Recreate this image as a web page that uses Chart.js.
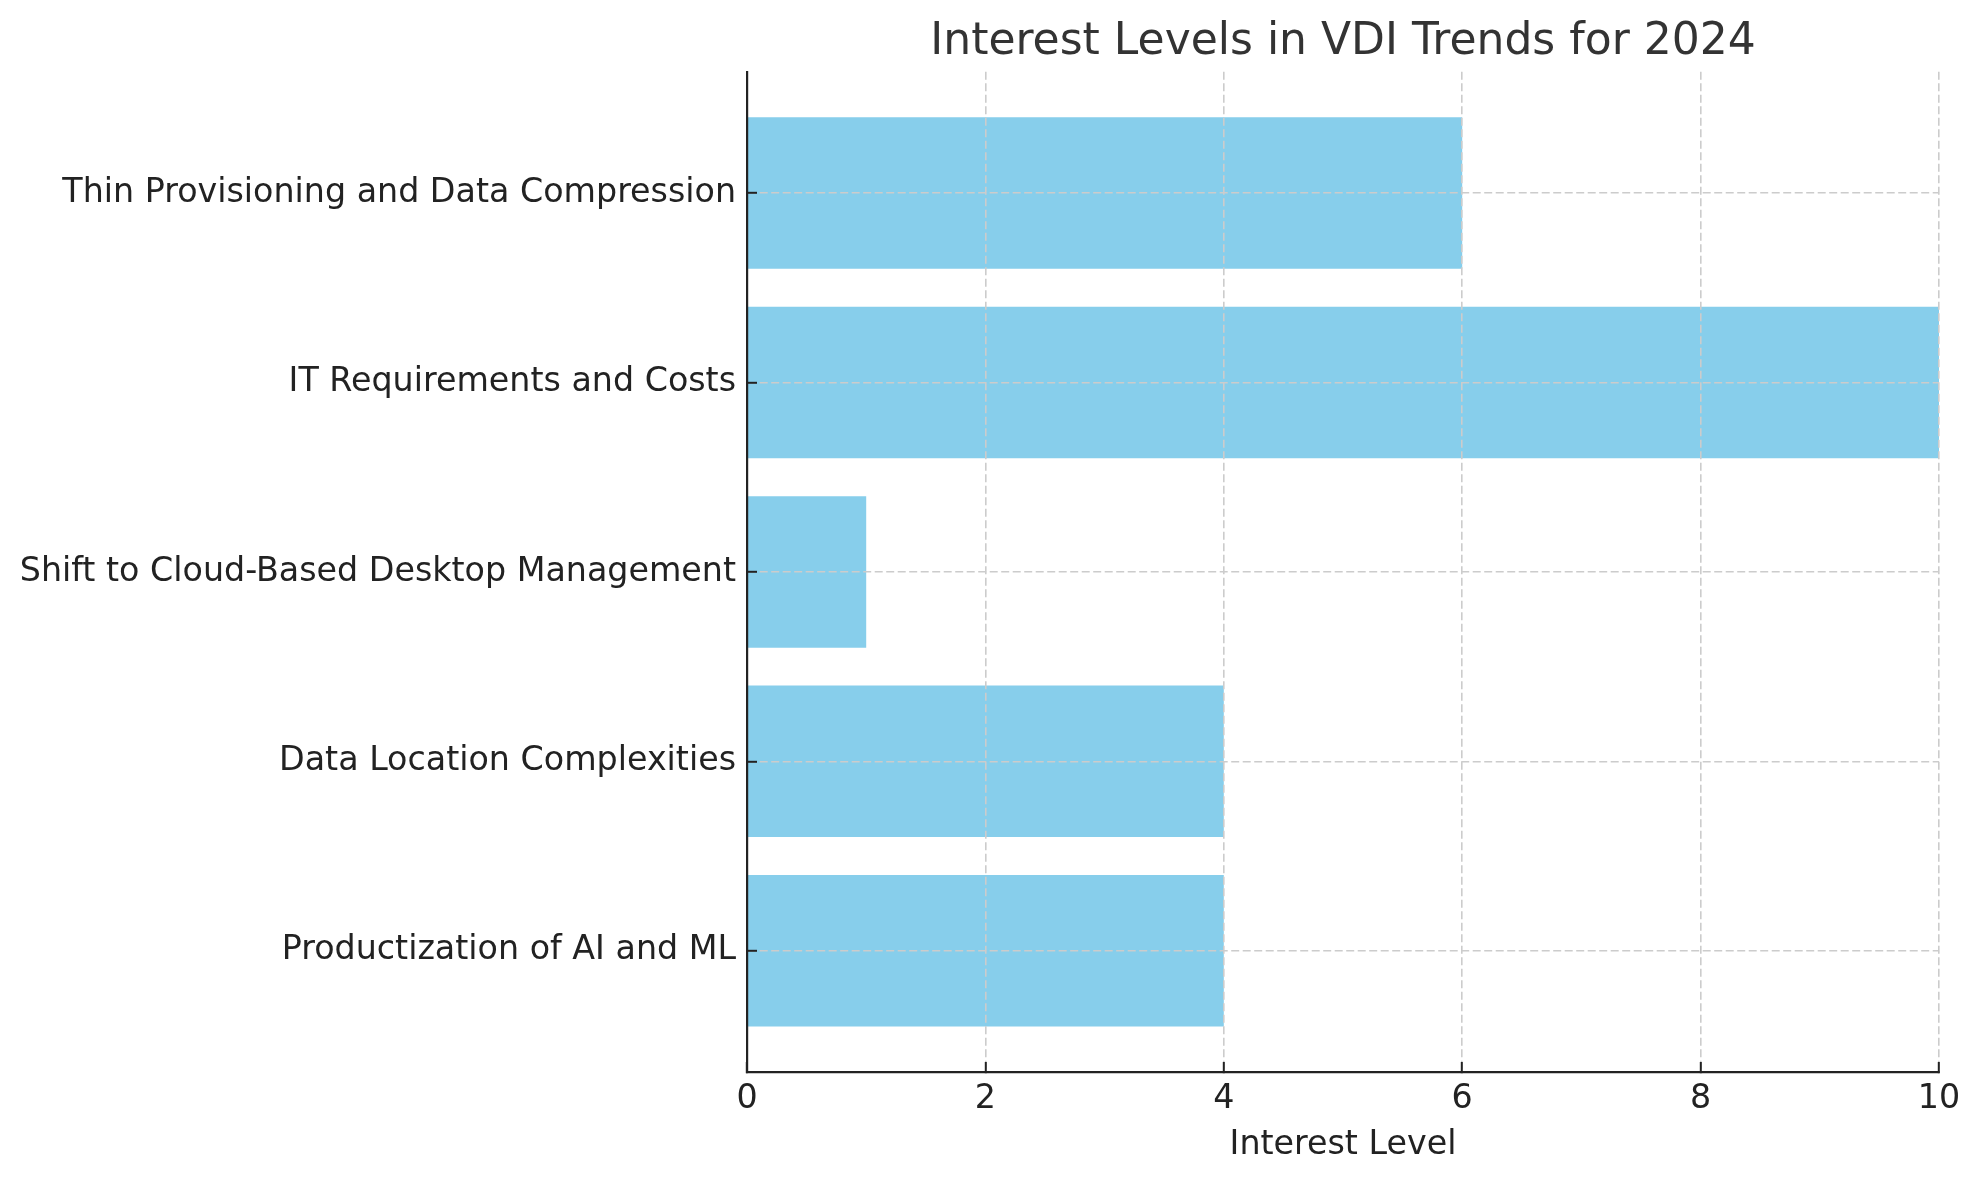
<!DOCTYPE html>
<html>
<head>
<meta charset="utf-8">
<title>Interest Levels in VDI Trends for 2024</title>
<script src="https://cdn.jsdelivr.net/npm/chart.js@4/dist/chart.umd.min.js"></script>
<style>
    body { margin: 0; background: #ffffff; }
    #wrap { width: 1979px; height: 1180px; }
</style>
</head>
<body>
<div id="wrap"><canvas id="myChart" width="1979" height="1180"></canvas></div>
<script>
// bottom to top, like the original barh
const categories = [
    "Productization of AI and ML",
    "Data Location Complexities",
    "Shift to Cloud-Based Desktop Management",
    "IT Requirements and Costs",
    "Thin Provisioning and Data Compression"
];
const interestLevels = [4, 4, 1, 10, 6];
const xTickValues = [0, 2, 4, 6, 8, 10];

const FONT = "'DejaVu Sans', 'Liberation Sans', sans-serif";
const GRID = '#cccccc';
const INK = '#222222';

document.addEventListener('DOMContentLoaded', function() {
    const ctx = document.getElementById('myChart');

    new Chart(ctx, {
        type: 'bar',
        data: {
            datasets: [{
                label: 'Interest Level',
                data: interestLevels.map((v, i) => ({ x: v, y: i })),
                backgroundColor: '#87CEEB',
                borderWidth: 0,
                barPercentage: 1,
                categoryPercentage: 0.8
            }]
        },
        options: {
            responsive: false,
            devicePixelRatio: 1,
            animation: false,
            indexAxis: 'y',
            layout: { padding: { top: 0, left: 0, right: 40, bottom: 0 } },
            plugins: {
                legend: { display: false },
                tooltip: { enabled: false },
                title: {
                    display: true,
                    fullSize: false,
                    text: 'Interest Levels in VDI Trends for 2024',
                    color: '#333333',
                    font: { family: FONT, size: 44, weight: 'normal', lineHeight: 1.2 },
                    padding: { top: 16, bottom: 3 }
                }
            },
            scales: {
                x: {
                    type: 'linear',
                    position: 'bottom',
                    min: 0,
                    max: 10,
                    afterBuildTicks: (scale) => {
                        scale.ticks = xTickValues.map(v => ({ value: v }));
                    },
                    afterFit: (scale) => {
                        scale.height = 108;
                        scale.paddingLeft = 0;
                        scale.paddingRight = 0;
                    },
                    grid: {
                        z: 1,
                        color: GRID,
                        lineWidth: 1.6,
                        drawTicks: true,
                        tickLength: -10,
                        tickColor: INK,
                        tickWidth: 2
                    },
                    border: { z: 2, color: INK, width: 2.2, dash: [8, 3.5] },
                    ticks: {
                        color: INK,
                        padding: 17,
                        font: { family: FONT, size: 33.3 }
                    },
                    title: {
                        display: true,
                        text: 'Interest Level',
                        color: INK,
                        font: { family: FONT, size: 33.3 },
                        padding: { top: 0, bottom: 15 }
                    }
                },
                y: {
                    type: 'linear',
                    position: 'left',
                    offset: false,
                    min: -0.64,
                    max: 4.64,
                    afterBuildTicks: (scale) => {
                        scale.ticks = categories.map((c, i) => ({ value: i }));
                    },
                    afterFit: (scale) => {
                        scale.width = 747;
                        scale.paddingTop = 0;
                        scale.paddingBottom = 0;
                    },
                    grid: {
                        z: 1,
                        offset: false,
                        color: GRID,
                        lineWidth: 1.6,
                        drawTicks: true,
                        tickLength: -10,
                        tickColor: INK,
                        tickWidth: 2
                    },
                    border: { z: 2, color: INK, width: 2.2, dash: [8, 3.5] },
                    ticks: {
                        color: INK,
                        padding: 21,
                        font: { family: FONT, size: 33.3 },
                        callback: (value) => categories[value]
                    }
                }
            }
        }
    });
});
</script>
</body>
</html>
